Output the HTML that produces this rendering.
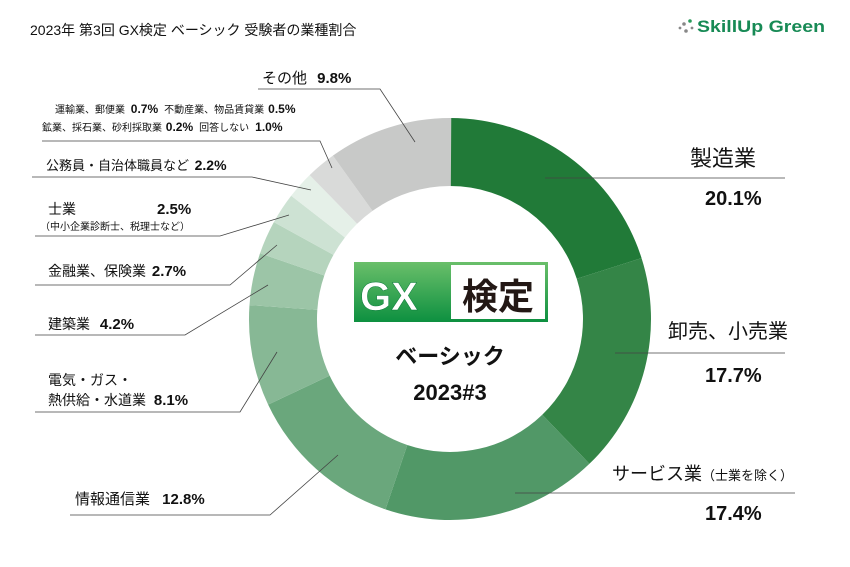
<!DOCTYPE html>
<html><head><meta charset="utf-8"><style>
body{margin:0;background:#fff;}
svg{display:block;font-family:"Liberation Sans","Noto Sans CJK JP",sans-serif;}
</style></head><body>
<svg id="s" width="850" height="567" viewBox="0 0 850 567">
<rect width="850" height="567" fill="#fff"/>
<g id="arcs"></g>
<text x="30" y="35" font-size="14" fill="#111">2023年 第3回 GX検定 ベーシック 受験者の業種割合</text>
<g fill="#888"><circle cx="684" cy="24" r="1.8"/><circle cx="690" cy="21" r="1.8" fill="#2a9a5a"/><circle cx="686" cy="31" r="1.8"/><circle cx="680" cy="28" r="1.4"/><circle cx="692" cy="28" r="1.4"/></g>
<text x="697" y="32" font-size="17" font-weight="bold" fill="#178a55" textLength="128" lengthAdjust="spacingAndGlyphs">SkillUp Green</text>

<defs><linearGradient id="g" x1="0" y1="0" x2="0" y2="1"><stop offset="0" stop-color="#6abf6a"/><stop offset="1" stop-color="#0d9040"/></linearGradient></defs>
<rect x="354" y="262" width="194" height="60" fill="url(#g)"/>
<rect x="451" y="265" width="94" height="54" fill="#fff"/>
<text x="360" y="310" font-size="40" font-weight="bold" fill="#fff" stroke="#0a7a3a" stroke-width="0.5">GX</text>
<text x="498" y="309" font-size="36" font-weight="bold" fill="#231815" text-anchor="middle">検定</text>
<text x="450" y="364" font-size="22" font-weight="bold" fill="#111" text-anchor="middle">ベーシック</text>
<text x="450" y="400" font-size="22" font-weight="bold" fill="#111" text-anchor="middle">2023#3</text>

<g stroke="#444" stroke-width="0.8" fill="none">
<polyline points="545,178 785,178"/>
<polyline points="615,353 785,353"/>
<polyline points="515,493 795,493"/>
<polyline points="338,455 270,515 70,515"/>
<polyline points="277,352 240,412 35,412"/>
<polyline points="268,285 185,335 35,335"/>
<polyline points="277,245 230,285 35,285"/>
<polyline points="289,215 220,236 35,236"/>
<polyline points="311,190 252,177 32,177"/>
<polyline points="332,168 320,141 42,141"/>
<polyline points="415,142 380,89 258,89"/>
</g>
<g fill="#111">
<text x="690" y="166" font-size="22">製造業</text>
<text x="705" y="205" font-size="20" font-weight="bold">20.1%</text>
<text x="668" y="338" font-size="20">卸売、小売業</text>
<text x="705" y="382" font-size="20" font-weight="bold">17.7%</text>
<text x="612" y="480" font-size="18">サービス業<tspan font-size="13">（士業を除く）</tspan></text>
<text x="705" y="520" font-size="20" font-weight="bold">17.4%</text>
<text x="75" y="504" font-size="15">情報通信業 <tspan dx="8" font-weight="bold">12.8%</tspan></text>
<text x="48" y="385" font-size="14">電気・ガス・</text>
<text x="48" y="405" font-size="14">熱供給・水道業 <tspan dx="4" font-size="15" font-weight="bold">8.1%</tspan></text>
<text x="48" y="329" font-size="14">建築業 <tspan dx="6" font-size="15" font-weight="bold">4.2%</tspan></text>
<text x="48" y="276" font-size="14">金融業、保険業 <tspan dx="2" font-size="15" font-weight="bold">2.7%</tspan></text>
<text x="48" y="214" font-size="14">士業</text>
<text x="157" y="214" font-size="15" font-weight="bold">2.5%</text>
<text x="40" y="230" font-size="10">（中小企業診断士、税理士など）</text>
<text x="46" y="170" font-size="13">公務員・自治体職員など <tspan dx="2" font-size="14" font-weight="bold">2.2%</tspan></text>
<text x="55" y="113" font-size="10">運輸業、郵便業 <tspan dx="3" font-size="12" font-weight="bold">0.7%</tspan><tspan dx="6">不動産業、物品賃貸業</tspan><tspan dx="4" font-size="12" font-weight="bold">0.5%</tspan></text>
<text x="42" y="131" font-size="10">鉱業、採石業、砂利採取業 <tspan dx="1" font-size="12" font-weight="bold">0.2%</tspan><tspan dx="6">回答しない</tspan><tspan dx="6" font-size="12" font-weight="bold">1.0%</tspan></text>
<text x="262" y="83" font-size="15">その他 <tspan dx="6" font-weight="bold">9.8%</tspan></text>
</g>
</svg>
<script>
var d=[[20.1,"#217a38"],[17.7,"#348547"],[17.4,"#519867"],[12.8,"#6aa77c"],[8.1,"#87b895"],[4.2,"#9cc5a7"],[2.7,"#b5d4bd"],[2.5,"#cde2d3"],[2.2,"#e5f0e8"],[2.4,"#d9dad9"],[10.0,"#c8c9c8"]];
var cx=450,cy=319,R=201,r=133,a=0,h="";
function p(rad,ang){return [cx+rad*Math.sin(ang),cy-rad*Math.cos(ang)];}
d.forEach(function(s){var a0=a/100*2*Math.PI;a+=s[0];var a1=a/100*2*Math.PI;var L=(a1-a0)>Math.PI?1:0;
var A=p(R,a0),B=p(R,a1),C=p(r,a1),D=p(r,a0);
h+='<path fill="'+s[1]+'" d="M'+A+' A'+R+','+R+' 0 '+L+' 1 '+B+' L'+C+' A'+r+','+r+' 0 '+L+' 0 '+D+' Z"/>';});
document.getElementById("arcs").innerHTML=h;
</script>
</body></html>
